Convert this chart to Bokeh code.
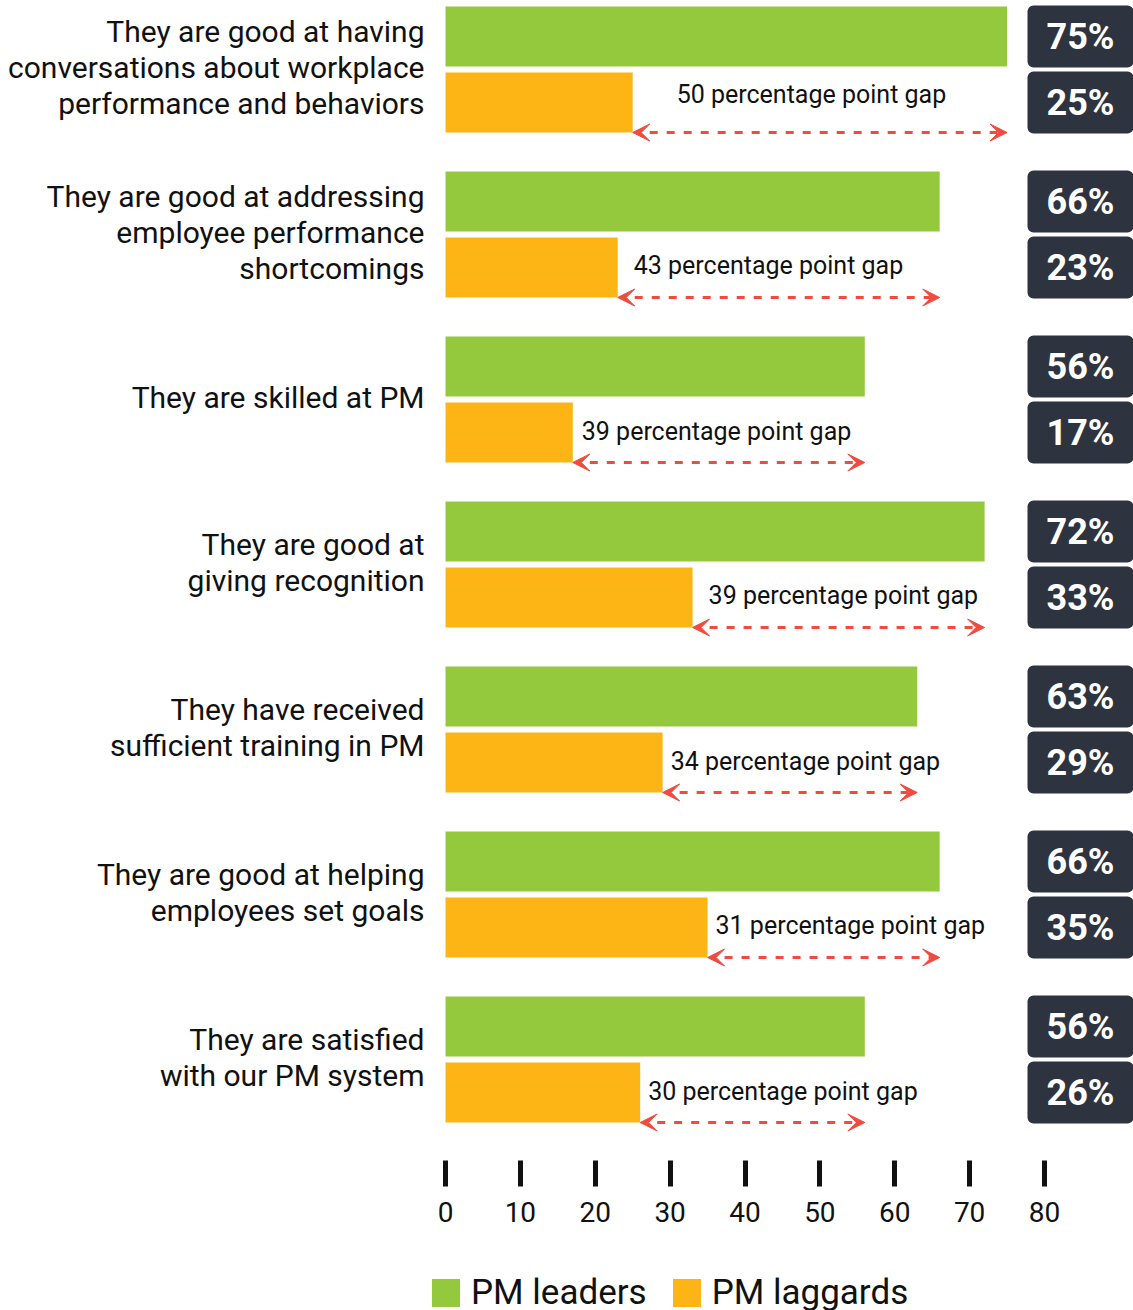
from bokeh.plotting import figure
from bokeh.layouts import column
from bokeh.models import (ColumnDataSource, Range1d, FixedTicker, Arrow, VeeHead,
                          Legend, LegendItem)
from bokeh.core.properties import value
from bokeh.embed import file_html
from bokeh.resources import INLINE

# ---------------- data ----------------
categories = [
    "They are good at having\nconversations about workplace\nperformance and behaviors",
    "They are good at addressing\nemployee performance\nshortcomings",
    "They are skilled at PM",
    "They are good at\ngiving recognition",
    "They have received\nsufficient training in PM",
    "They are good at helping\nemployees set goals",
    "They are satisfied\nwith our PM system",
]
leaders = [75, 66, 56, 72, 63, 66, 56]
laggards = [25, 23, 17, 33, 29, 35, 26]
ticks = [0, 10, 20, 30, 40, 50, 60, 70, 80]
series_names = ["PM leaders", "PM laggards"]

# ---------------- style ----------------
GREEN = "#95c93d"
ORANGE = "#fdb515"
DARK = "#2d3440"
RED = "#ef4b3f"
TXT = "#111111"
FONT = value("Roboto")

PX = 599 / 80.0          # pixels per percentage point
FRAME_W = 1133
FRAME_H = 1160
BOTTOM = 80
ROW = 165.0              # pixels per category row
x_start = -445 / PX
y_top = -69 / ROW

bar_h = 60 / ROW
off = 33 / ROW
box_h = 62 / ROW
box_left = 77.73
box_right = 95
gap_label_dx = [44, 16, 9, 16, 8, 8, 8]
gap_label_dy = [-8, -2, -1, -2, -1, -2, -1]

idx = list(range(len(categories)))

lead_src = ColumnDataSource(dict(
    y=[i - off for i in idx], v=leaders, label=[f"{v}%" for v in leaders]))
lag_src = ColumnDataSource(dict(
    y=[i + off for i in idx], v=laggards, label=[f"{v}%" for v in laggards]))
gap_src = ColumnDataSource(dict(
    y=[i + off for i in idx],
    ya=[i + off + 30 / ROW for i in idx],
    x0=laggards, x1=leaders,
    dx=gap_label_dx, dy=gap_label_dy,
    text=[f"{a - b} percentage point gap" for a, b in zip(leaders, laggards)]))
cat_src = ColumnDataSource(dict(y=idx, text=categories))

p = figure(frame_width=FRAME_W, frame_height=FRAME_H,
           x_range=Range1d(x_start, x_start + FRAME_W / PX),
           y_range=Range1d(y_top + FRAME_H / ROW, y_top),
           output_backend="svg", toolbar_location=None,
           x_axis_location="below", y_axis_location=None,
           min_border=0, min_border_left=0, min_border_right=0,
           min_border_top=0, min_border_bottom=BOTTOM)
p.outline_line_color = None
p.grid.visible = False
p.background_fill_color = "white"

r_lead = p.hbar(y="y", left=0, right="v", height=bar_h, fill_color=GREEN,
                line_color=None, source=lead_src)
r_lag = p.hbar(y="y", left=0, right="v", height=bar_h, fill_color=ORANGE,
               line_color=None, source=lag_src)

# value boxes
for src in (lead_src, lag_src):
    p.hbar(y="y", left=box_left, right=box_right, height=box_h, fill_color=DARK,
           line_color=None, border_radius=6, source=src)
    p.text(x=box_left, y="y", text="label", x_offset=53, text_align="center",
           text_baseline="middle", text_font=FONT, text_font_style="bold",
           text_font_size="36px", text_color="white", source=src)

# gap labels and arrows
p.text(x="x0", y="y", text="text", x_offset="dx", y_offset="dy", text_align="left",
       text_baseline="middle", text_font=FONT, text_font_size="25px",
       text_color=TXT, source=gap_src)
p.add_layout(Arrow(
    x_start="x0", y_start="ya", x_end="x1", y_end="ya", source=gap_src,
    line_color=RED, line_width=2.8, line_dash="8 9",
    start=VeeHead(size=17, fill_color=RED, line_color=RED, line_width=1),
    end=VeeHead(size=17, fill_color=RED, line_color=RED, line_width=1)))

# category labels
p.text(x=0, y="y", text="text", x_offset=-21, y_offset=-2, text_align="right",
       text_baseline="middle", text_font=FONT, text_font_size="30px",
       text_line_height=1.02, text_color=TXT, source=cat_src)

# axis
ax = p.xaxis[0]
ax.ticker = FixedTicker(ticks=ticks)
ax.axis_line_color = None
ax.major_tick_line_color = TXT
ax.major_tick_line_width = 5
ax.major_tick_in = 0
ax.major_tick_out = 26
ax.minor_tick_line_color = None
ax.major_label_standoff = 15
ax.major_label_text_font = "Roboto"
ax.major_label_text_font_size = "28px"
ax.major_label_text_color = TXT

# legend strip below the chart
q = figure(width=FRAME_W, height=1310 - FRAME_H - BOTTOM,
           x_range=Range1d(0, 1), y_range=Range1d(0, 1),
           output_backend="svg", toolbar_location=None,
           x_axis_location=None, y_axis_location=None,
           min_border=0, min_border_left=0, min_border_right=0,
           min_border_top=0, min_border_bottom=0)
q.outline_line_color = None
q.grid.visible = False
k_lead = q.hbar(y=[-5], left=[0], right=[1], height=1, fill_color=GREEN, line_color=None)
k_lag = q.hbar(y=[-5], left=[0], right=[1], height=1, fill_color=ORANGE, line_color=None)
legend = Legend(items=[LegendItem(label=series_names[0], renderers=[k_lead]),
                       LegendItem(label=series_names[1], renderers=[k_lag])],
                orientation="horizontal", location=(428, -3),
                glyph_width=35, glyph_height=35, label_standoff=8, spacing=22,
                label_text_font="Roboto", label_text_font_size="35px",
                label_text_color=TXT, padding=0, margin=0,
                border_line_color=None, background_fill_alpha=0)
q.add_layout(legend)

open("out.html", "w").write(file_html(column(p, q, spacing=0), INLINE))
